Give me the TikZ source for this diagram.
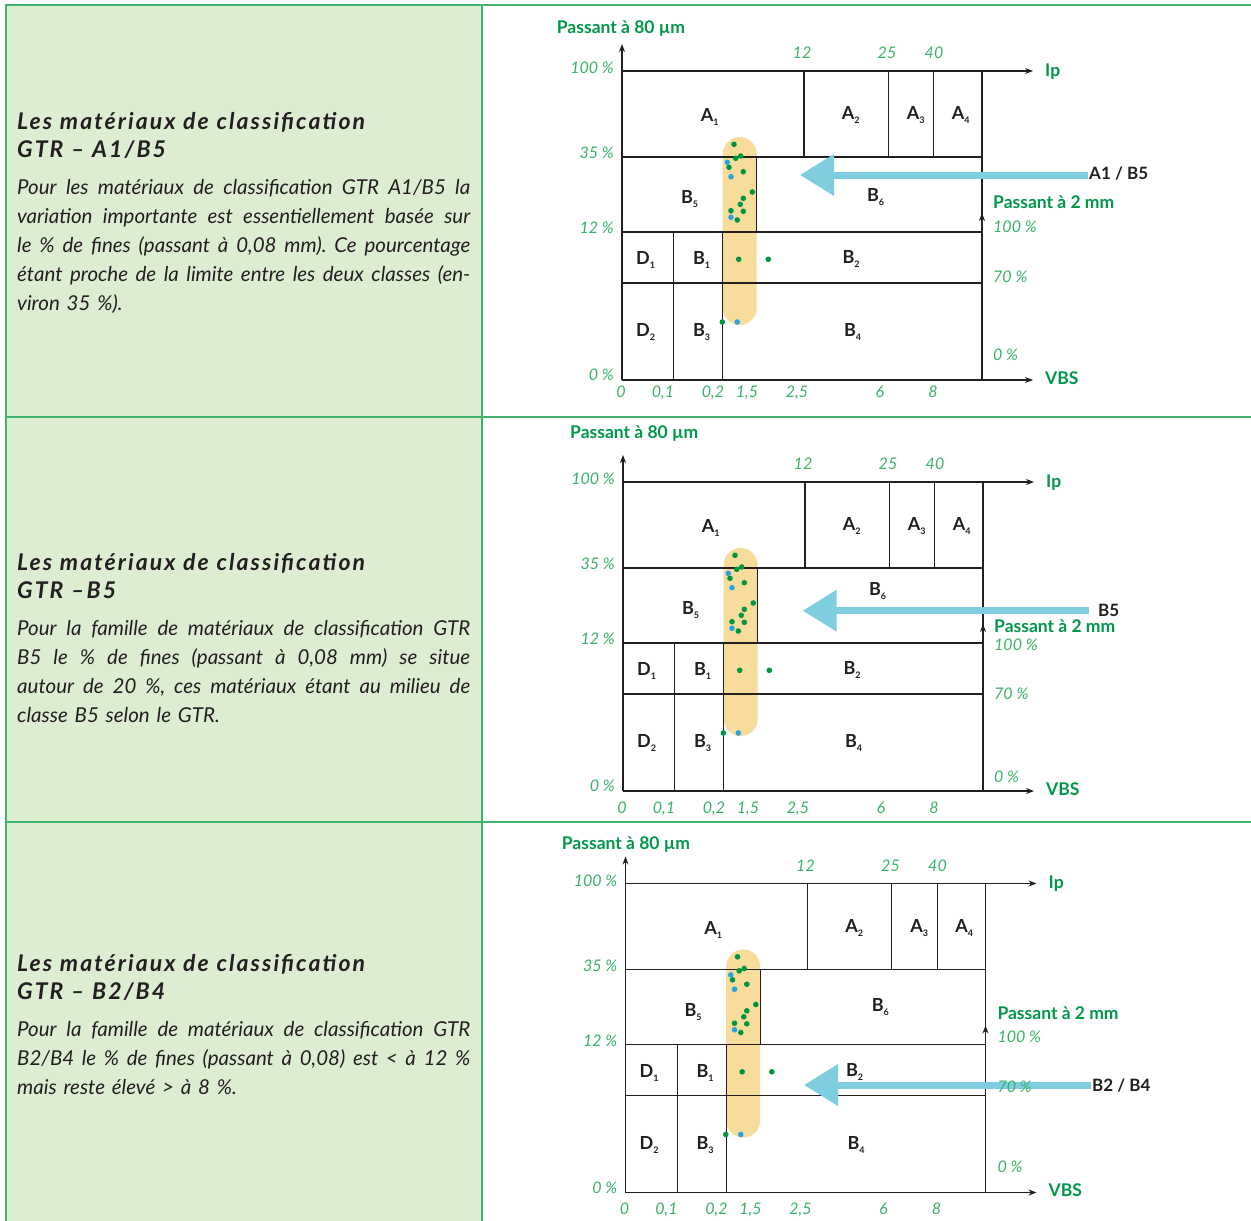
\documentclass[tikz,border=0pt]{standalone}
\usepackage{fontspec}
\setmainfont{Lato}
\newfontfamily\titlefont[LetterSpace=9]{Lato}
\usetikzlibrary{arrows.meta}
\definecolor{frameg}{RGB}{64,180,110}
\definecolor{panelg}{RGB}{221,237,209}
\definecolor{labg}{RGB}{0,152,72}
\definecolor{numg}{RGB}{60,178,105}
\definecolor{pillc}{RGB}{248,220,155}
\definecolor{dotg}{RGB}{0,150,65}
\definecolor{dotb}{RGB}{40,165,225}
\definecolor{arrb}{RGB}{126,206,224}
\definecolor{ink}{RGB}{35,31,32}
\newcommand\cellsub[2]{#1\rlap{\raisebox{-4pt}{\fontsize{9}{9}\selectfont #2}}}
\newcommand\jl[1]{\leavevmode\hbox to 453pt{\frenchspacing\spaceskip=0.24em plus 3em minus 0.08em\relax #1}}
\tikzset{
  framel/.style={draw=frameg, line width=2pt},
  gridline/.style={draw=ink, line width=1.2pt},
  axarrow/.style={-{Stealth[length=8pt,width=6pt]}},
  cell/.style={font=\fontsize{18}{18}\selectfont\bfseries, text=ink, inner sep=0pt, text height=13pt, text depth=0pt},
  num/.style={font=\fontsize{16}{16}\selectfont\itshape, text=numg, inner sep=0pt, text height=11.6pt, text depth=0pt},
  axlab/.style={font=\fontsize{17.5}{17.5}\selectfont\bfseries, text=labg, inner sep=0pt, text height=12.6pt, text depth=0pt},
  arrlab/.style={font=\fontsize{17}{17}\selectfont\bfseries, text=ink, inner sep=1pt, text height=12.4pt, text depth=0pt, anchor=west},
  bluearrow/.style={draw=arrb, line width=7pt, -{Triangle[length=34pt,width=40pt]}},
  titletext/.style={font=\titlefont\fontsize{23}{28}\selectfont\bfseries\itshape, text=ink, inner sep=0pt, anchor=base west, text width=460pt, align=left},
  bodytext/.style={font=\fontsize{20.5}{29}\selectfont\itshape, text=ink, inner sep=0pt, anchor=base west, text width=460pt, align=left},
}
\newcommand\gtrchart[4]{%
\begin{scope}[shift={(#2,#3)}]
\fill[pillc, rounded corners=17pt] (722.7,137) rectangle (756.7,325);
\draw[gridline] (622,157) -- (982,157);
\draw[gridline] (622,232) -- (982,232);
\draw[gridline] (622,283) -- (982,283);
\draw[gridline] (673.7,232) -- (673.7,380);
\draw[gridline] (722.7,232) -- (722.7,380);
\draw[gridline] (756.7,157) -- (756.7,232);
\draw[gridline] (804,71) -- (804,157);
\draw[gridline] (888.3,71) -- (888.3,157);
\draw[gridline] (933.7,71) -- (933.7,157);
\draw[gridline] (982,71) -- (982,380);
\draw[gridline, axarrow] (982,380) -- (982,213);
\draw[gridline, axarrow] (622,380) -- (622,44);
\draw[gridline, axarrow] (622,71) -- (1033,71);
\draw[gridline, axarrow] (622,380) -- (1033,380);
\foreach \x/\y in {734/144.3,735.7/158.3,740.7/156,729/167.3,743.3/171.7,752.3/192,743.3/198.3,740.3/204.3,731/210.7,743.3/211.3,737.3/220,738.7/259.3,768.3/259.3,722.3/322}
  \fill[dotg] (\x,\y) circle (2.8pt);
\foreach \x/\y in {727.3/162.3,731/176.7,731/217.3,737.3/322}
  \fill[dotb] (\x,\y) circle (2.8pt);
\node[cell] (#1A1) at (707,115) {\cellsub{A}{1}};
\node[cell] (#1A2) at (848,113) {\cellsub{A}{2}};
\node[cell] (#1A3) at (913,113) {\cellsub{A}{3}};
\node[cell] (#1A4) at (958,113) {\cellsub{A}{4}};
\node[cell] (#1B5) at (687,197) {\cellsub{B}{5}};
\node[cell] (#1D1) at (643,258) {\cellsub{D}{1}};
\node[cell] (#1B1) at (699,258) {\cellsub{B}{1}};
\node[cell] (#1B2) at (848.5,257) {\cellsub{B}{2}};
\node[cell] (#1D2) at (643,330) {\cellsub{D}{2}};
\node[cell] (#1B3) at (699,330) {\cellsub{B}{3}};
\node[cell] (#1B4) at (850,330) {\cellsub{B}{4}};
\node[num, anchor=east] (#1l100) at (614,68) {100 \%};
\node[num, anchor=east] (#1l35) at (614,153) {35 \%};
\node[num, anchor=east] (#1l12) at (614,228) {12 \%};
\node[num, anchor=east] (#1l0) at (614,375) {0 \%};
\node[num] (#1t12) at (802,53) {12};
\node[num] (#1t25) at (887,53) {25};
\node[num] (#1t40) at (934,53) {40};
\node[num] (#1b0) at (621,#4) {0};
\node[num] (#1b01) at (663,#4) {0,1};
\node[num] (#1b02) at (713,#4) {0,2};
\node[num] (#1b15) at (747,#4) {1,5};
\node[num] (#1b25) at (797,#4) {2,5};
\node[num] (#1b6) at (880,#4) {6};
\node[num] (#1b8) at (933,#4) {8};
\node[axlab, anchor=west] (#1Ip) at (1045,70) {Ip};
\node[axlab, anchor=west] (#1VBS) at (1045,378) {VBS};
\end{scope}}
\begin{document}
\begin{tikzpicture}[x=1pt, y=-1pt]
\useasboundingbox (0,0) rectangle (1251,1221);
\fill[white] (0,0) rectangle (1251,1221);
\fill[panelg] (6,5) rectangle (482,1221);
\draw[framel] (5,5) -- (1251,5);
\draw[framel] (5,417) -- (1251,417);
\draw[framel] (5,822) -- (1251,822);
\draw[framel] (6,5) -- (6,1221);
\draw[framel] (482,5) -- (482,1221);
% ---------- left texts ----------
\node[titletext] (t1) at (17,129.3) {Les matériaux de classification\\GTR – A1/B5};
\node[bodytext] (p1) at (17,194) {\jl{Pour les matériaux de classification GTR A1/B5 la}\\
\jl{variation importante est essentiellement basée sur}\\
\jl{le \% de fines (passant à 0,08 mm). Ce pourcentage}\\
\jl{étant proche de la limite entre les deux classes (en-}\\
viron 35 \%).};
\node[titletext] (t2) at (17,570) {Les matériaux de classification\\GTR –B5};
\node[bodytext] (p2) at (17,635) {\jl{Pour la famille de matériaux de classification GTR}\\
\jl{B5 le \% de fines (passant à 0,08 mm) se situe}\\
\jl{autour de 20 \%, ces matériaux étant au milieu de}\\
classe B5 selon le GTR.};
\node[titletext] (t3) at (17,971.7) {Les matériaux de classification\\GTR – B2/B4};
\node[bodytext] (p3) at (17,1036.7) {\jl{Pour la famille de matériaux de classification GTR}\\
\jl{B2/B4 le \% de fines (passant à 0,08) est < à 12 \%}\\
mais reste élevé > à 8 \%.};
% ---------- chart 1 ----------
\gtrchart{ca}{0}{0}{391.5}
\begin{scope}
\node[axlab, anchor=west] (cap80) at (556.7,26.7) {Passant à 80 µm};
\node[cell] (caB6) at (873,195) {\cellsub{B}{6}};
\node[arrlab] (caal) at (1088,173) {A1 / B5};
\coordinate (catip) at (800,175);
\draw[bluearrow] (caal.west |- catip) -- (catip);
\node[axlab, anchor=west] (cap2) at (993,202) {Passant à 2 mm};
\node[num, anchor=west] (car100) at (993,227) {100 \%};
\node[num, anchor=west] (car70) at (993,277) {70 \%};
\node[num, anchor=west] (car0) at (993,355) {0 \%};
\end{scope}
% ---------- chart 2 ----------
\gtrchart{cb}{1}{411}{397}
\begin{scope}[shift={(1,411)}]
\node[axlab, anchor=west] (cbp80) at (569,20.7) {Passant à 80 µm};
\node[cell] (cbB6) at (874,178.3) {\cellsub{B}{6}};
\node[arrlab] (cbal) at (1096,199.7) {B5};
\coordinate (cbtip) at (801.7,199.7);
\draw[bluearrow] ([xshift=-8pt]cbal.west) -- (cbtip);
\node[axlab, anchor=west] (cbp2) at (993,214.7) {Passant à 2 mm};
\node[num, anchor=west] (cbr100) at (993,234) {100 \%};
\node[num, anchor=west] (cbr70) at (993,283) {70 \%};
\node[num, anchor=west] (cbr0) at (993,365.7) {0 \%};
\end{scope}
% ---------- chart 3 ----------
\gtrchart{cc}{3.5}{812.5}{395.8}
\begin{scope}[shift={(3.5,812.5)}]
\node[axlab, anchor=west] (ccp80) at (558.2,30.8) {Passant à 80 µm};
\node[cell] (ccB6) at (874.2,192.5) {\cellsub{B}{6}};
\node[arrlab] (ccal) at (1087.5,272.5) {B2 / B4};
\coordinate (cctip) at (800.5,272.5);
\draw[bluearrow] (ccal.west) -- (cctip);
\node[axlab, anchor=west] (ccp2) at (993.8,200.8) {Passant à 2 mm};
\node[num, anchor=west] (ccr100) at (993.8,224.2) {100 \%};
\node[num, anchor=west] (ccr70) at (993.8,274.2) {70 \%};
\node[num, anchor=west] (ccr0) at (993.8,354.2) {0 \%};
\end{scope}
\end{tikzpicture}
\end{document}
